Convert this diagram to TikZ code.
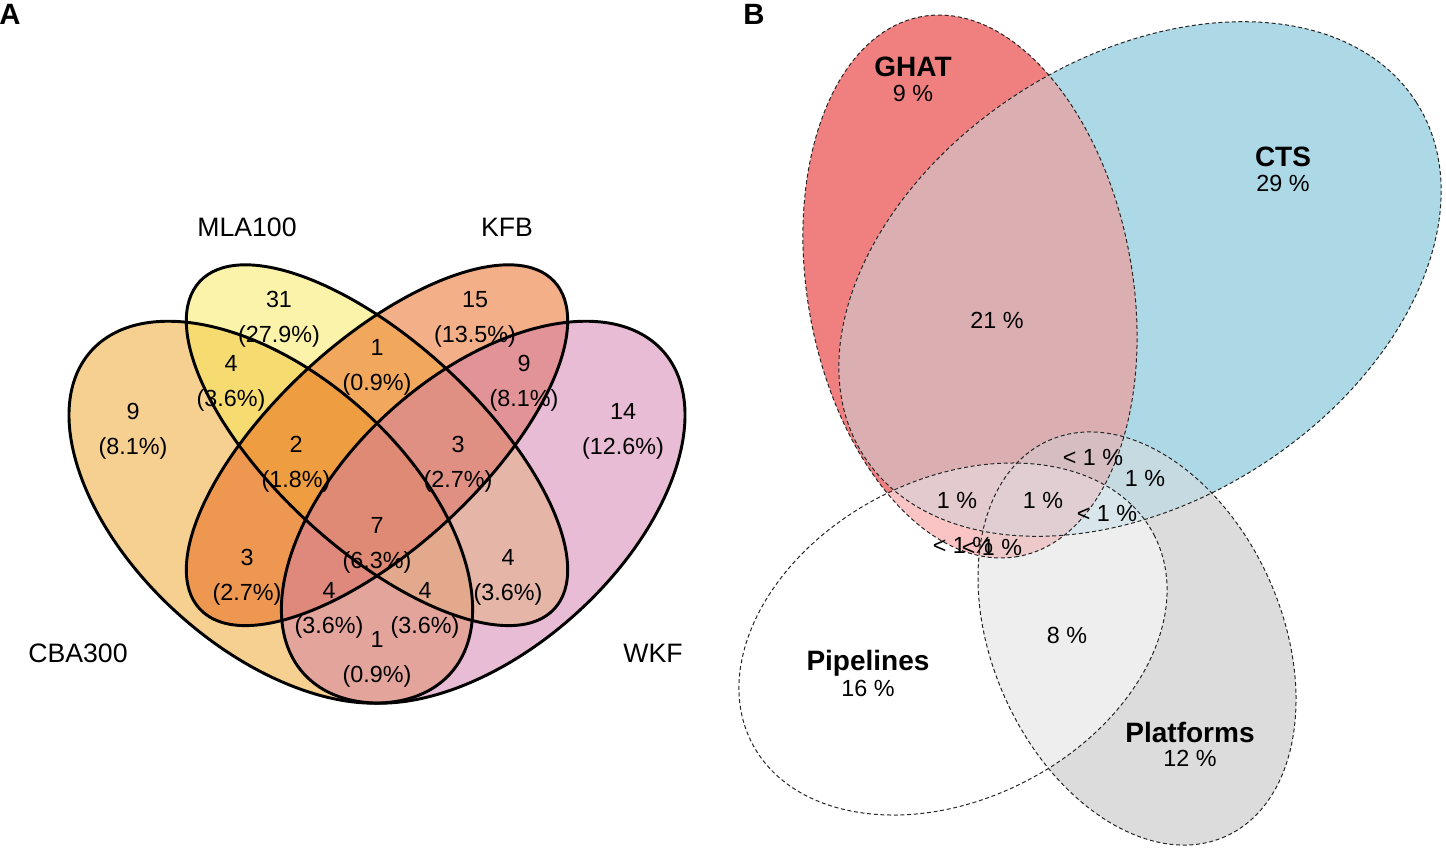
\documentclass[tikz,border=0pt]{standalone}
\usepackage{fontspec}
\setmainfont{Liberation Sans}

% panel A fills (drawn at half opacity)
\definecolor{cbaCol}{RGB}{237,161,35}
\definecolor{mlaCol}{RGB}{247,231,83}
\definecolor{kfbCol}{RGB}{231,95,17}
\definecolor{wkfCol}{RGB}{209,121,169}
% panel B region colours
\definecolor{gCol}{RGB}{240,128,128}
\definecolor{cCol}{RGB}{173,216,230}
\definecolor{pCol}{RGB}{255,255,255}
\definecolor{fCol}{RGB}{220,220,220}
\definecolor{gcCol}{RGB}{219,174,178}
\definecolor{gpCol}{RGB}{250,196,196}
\definecolor{gfCol}{RGB}{230,174,174}
\definecolor{cpCol}{RGB}{214,236,243}
\definecolor{cfCol}{RGB}{197,218,225}
\definecolor{pfCol}{RGB}{238,238,238}
\definecolor{gcpCol}{RGB}{226,202,206}
\definecolor{gcfCol}{RGB}{213,189,193}
\definecolor{gpfCol}{RGB}{238,201,201}
\definecolor{cpfCol}{RGB}{216,230,235}
\definecolor{gcpfCol}{RGB}{224,206,210}

\tikzset{every picture/.style={line width=0.75pt}}
\tikzset{
  vennLine/.style={draw=black, line width=2.2pt},
  eulerLine/.style={draw=black!85, line width=0.75pt, dash pattern=on 3pt off 2pt},
  panelLbl/.style={font=\fontsize{22}{24}\selectfont\bfseries, inner sep=0.75pt},
  setLbl/.style={font=\fontsize{20}{24}\selectfont, inner sep=0.75pt},
  numLbl/.style={align=center, font=\fontsize{17.5}{26}\selectfont, inner sep=0.75pt},
  bigLbl/.style={font=\fontsize{21}{24}\selectfont\bfseries, inner sep=0.75pt},
  pctLbl/.style={font=\fontsize{17.5}{20}\selectfont, inner sep=0.75pt}
}

% panel A sets
\newcommand{\cbaE}{[rotate around={41.9:(270.8,512.2)}] (270.8,512.2) ellipse (241.4 and 137.5)}
\newcommand{\mlaE}{[rotate around={42.7:(377,445.2)}] (377,445.2) ellipse (241.3 and 103.2)}
\newcommand{\kfbE}{[rotate around={-42.7:(377,445.2)}] (377,445.2) ellipse (241.3 and 103.2)}
\newcommand{\wkfE}{[rotate around={-41.9:(483.2,512.2)}] (483.2,512.2) ellipse (241.4 and 137.5)}
% panel B sets
\newcommand{\ghatE}{[rotate around={79.9:(970,286.5)}] (970,286.5) ellipse (274.2 and 162.5)}
\newcommand{\ctsE}{[rotate around={-32.6:(1140,279)}] (1140,279) ellipse (328 and 222)}
\newcommand{\pipeE}{[rotate around={-27.4:(953,639)}] (953,639) ellipse (226.4 and 159.8)}
\newcommand{\platE}{[rotate around={65.9:(1137,638.5)}] (1137,638.5) ellipse (216.8 and 144.7)}

\begin{document}
\begin{tikzpicture}[x=0.75pt,y=0.75pt,yscale=-1,xscale=1]
        \useasboundingbox (0,0) rectangle (1446,851);

        %Shape: Ellipse fills A
        \fill[cbaCol, fill opacity=0.5] \cbaE;
        \fill[mlaCol, fill opacity=0.5] \mlaE;
        \fill[kfbCol, fill opacity=0.5] \kfbE;
        \fill[wkfCol, fill opacity=0.5] \wkfE;
        %Shape: Ellipse outlines A
        \draw[vennLine] \cbaE;
        \draw[vennLine] \mlaE;
        \draw[vennLine] \kfbE;
        \draw[vennLine] \wkfE;

        %Shape: single sets B
        \fill[gCol] \ghatE;
        \fill[cCol] \ctsE;
        \fill[pCol] \pipeE;
        \fill[fCol] \platE;
        %Shape: pairs B
        \begin{scope} \clip \ghatE; \fill[gcCol] \ctsE; \end{scope}
        \begin{scope} \clip \ghatE; \fill[gpCol] \pipeE; \end{scope}
        \begin{scope} \clip \ghatE; \fill[gfCol] \platE; \end{scope}
        \begin{scope} \clip \ctsE; \fill[cpCol] \pipeE; \end{scope}
        \begin{scope} \clip \ctsE; \fill[cfCol] \platE; \end{scope}
        \begin{scope} \clip \pipeE; \fill[pfCol] \platE; \end{scope}
        %Shape: triples B
        \begin{scope} \clip \ghatE; \clip \ctsE; \fill[gcpCol] \pipeE; \end{scope}
        \begin{scope} \clip \ghatE; \clip \ctsE; \fill[gcfCol] \platE; \end{scope}
        \begin{scope} \clip \ghatE; \clip \pipeE; \fill[gpfCol] \platE; \end{scope}
        \begin{scope} \clip \ctsE; \clip \pipeE; \fill[cpfCol] \platE; \end{scope}
        %Shape: all four B
        \begin{scope} \clip \ghatE; \clip \ctsE; \clip \pipeE; \fill[gcpfCol] \platE; \end{scope}
        %Shape: dashed outlines B
        \draw[eulerLine] \ghatE;
        \draw[eulerLine] \ctsE;
        \draw[eulerLine] \pipeE;
        \draw[eulerLine] \platE;

        % Text Node
        \draw (10,14) node [panelLbl] (pA) {A};
        \draw (754,14) node [panelLbl] (pB) {B};

        % Text Node
        \draw (247,227) node [setLbl] (tMLA) {MLA100};
        \draw (507,227) node [setLbl] (tKFB) {KFB};
        \draw (78,653) node [setLbl] (tCBA) {CBA300};
        \draw (653,653) node [setLbl] (tWKF) {WKF};

        % Text Node
        \draw (279,319.5) node [numLbl] (aM) {31\\(27.9\%)};
        \draw (475,319.5) node [numLbl] (aK) {15\\(13.5\%)};
        \draw (377,367.5) node [numLbl] (aMK) {1\\(0.9\%)};
        \draw (231,383.5) node [numLbl] (aCM) {4\\(3.6\%)};
        \draw (524,383.5) node [numLbl] (aKW) {9\\(8.1\%)};
        \draw (133,431.5) node [numLbl] (aC) {9\\(8.1\%)};
        \draw (623,431.5) node [numLbl] (aW) {14\\(12.6\%)};
        \draw (296,464.5) node [numLbl] (aCMK) {2\\(1.8\%)};
        \draw (458,464.5) node [numLbl] (aMKW) {3\\(2.7\%)};
        \draw (377,545.5) node [numLbl] (aAll) {7\\(6.3\%)};
        \draw (247,577.5) node [numLbl] (aCK) {3\\(2.7\%)};
        \draw (508,577.5) node [numLbl] (aMW) {4\\(3.6\%)};
        \draw (329,610.5) node [numLbl] (aCKW) {4\\(3.6\%)};
        \draw (425,610.5) node [numLbl] (aCMW) {4\\(3.6\%)};
        \draw (377,659.5) node [numLbl] (aCW) {1\\(0.9\%)};

        % Text Node
        \draw (913,67) node [bigLbl] (tGHAT) {GHAT};
        \draw (913,93) node [pctLbl] (pGHAT) {9 \%};
        \draw (1283,157) node [bigLbl] (tCTS) {CTS};
        \draw (1283,183) node [pctLbl] (pCTS) {29 \%};
        \draw (868,663) node [bigLbl] (tPipe) {Pipelines};
        \draw (868,688) node [pctLbl] (pPipe) {16 \%};
        \draw (1190,732) node [bigLbl] (tPlat) {Platforms};
        \draw (1190,758) node [pctLbl] (pPlat) {12 \%};

        % Text Node
        \draw (997,320) node [pctLbl] (bGC) {21 \%};
        \draw (1093,457) node [pctLbl] (bGCF) {< 1 \%};
        \draw (1145,478) node [pctLbl] (bCF) {1 \%};
        \draw (957,500) node [pctLbl] (bGCP) {1 \%};
        \draw (1043,500) node [pctLbl] (bAll) {1 \%};
        \draw (1107,513) node [pctLbl] (bCPF) {< 1 \%};
        \draw (963,545) node [pctLbl] (bGP) {< 1 \%};
        \draw (992,547) node [pctLbl] (bGPF) {< 1 \%};
        \draw (1067,635) node [pctLbl] (bPF) {8 \%};

\end{tikzpicture}
\end{document}
